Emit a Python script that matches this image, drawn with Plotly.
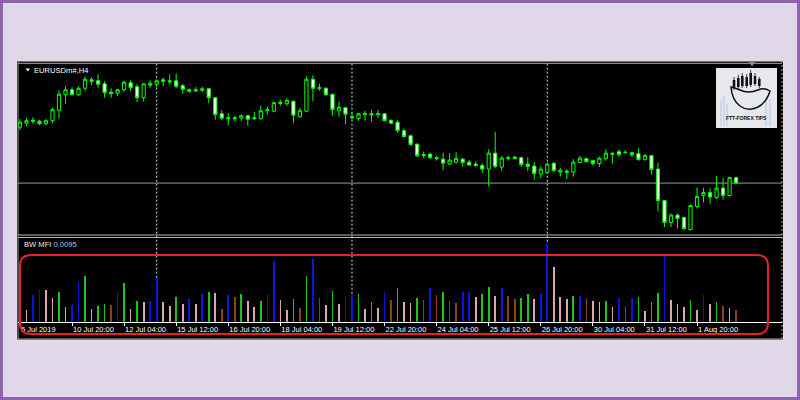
import plotly.graph_objects as go

W, H = 800, 400

# ---------------- data ----------------
symbol_label = "EURUSDm#,H4"
indicator_label = "BW MFI"

open_ = [1.1236, 1.1240, 1.1243, 1.1242, 1.12395, 1.12425, 1.1253, 1.12685, 1.12735, 1.12685,
         1.1275, 1.12835, 1.12825, 1.12795, 1.1271, 1.1270, 1.12735, 1.12805, 1.12765, 1.12655,
         1.1278, 1.1279, 1.12835, 1.12825, 1.12825, 1.12775, 1.12735, 1.12735, 1.1273, 1.12745,
         1.12655, 1.12495, 1.12455, 1.12455, 1.1245, 1.12475, 1.12455, 1.12445, 1.12525, 1.1252,
         1.1261, 1.12595, 1.1262, 1.12465, 1.1252, 1.1284, 1.12745, 1.1275, 1.1269, 1.12525,
         1.12555, 1.12465, 1.12445, 1.12485, 1.12495, 1.12485, 1.12495, 1.1243, 1.1241, 1.12325,
         1.12275, 1.1219, 1.12075, 1.1209, 1.12055, 1.1204, 1.1199, 1.1201, 1.1204, 1.1201,
         1.1199, 1.11975, 1.1194, 1.1210, 1.1196, 1.12045, 1.1206, 1.12055, 1.1199, 1.1197,
         1.1189, 1.11905, 1.1200, 1.1191, 1.1192, 1.1191, 1.12005, 1.12045, 1.12025, 1.11995,
         1.12045, 1.1210, 1.12115, 1.1211, 1.12105, 1.12095, 1.12035, 1.12075, 1.1194, 1.11625,
         1.11405, 1.1148, 1.11455, 1.11335, 1.11565, 1.11675, 1.11705, 1.11655, 1.1175, 1.11675,
         1.11855]
high_ = [1.1244, 1.12455, 1.1246, 1.12435, 1.1244, 1.12555, 1.1273, 1.1277, 1.1276, 1.1277,
         1.1287, 1.1286, 1.1289, 1.1282, 1.1275, 1.12745, 1.12825, 1.1283, 1.1279, 1.1280,
         1.1283, 1.1284, 1.12855, 1.1289, 1.12895, 1.12795, 1.1275, 1.1276, 1.12765, 1.1275,
         1.1266, 1.1253, 1.1250, 1.12475, 1.12485, 1.12485, 1.12515, 1.12575, 1.12565, 1.12615,
         1.12635, 1.1265, 1.12625, 1.12555, 1.1287, 1.1288, 1.12795, 1.1276, 1.12695, 1.12615,
         1.1256, 1.1251, 1.1250, 1.12525, 1.12535, 1.12535, 1.1250, 1.12435, 1.1243, 1.12345,
         1.12285, 1.12195, 1.12115, 1.12105, 1.12075, 1.12105, 1.1210, 1.1211, 1.1205, 1.1203,
         1.12015, 1.1200, 1.1214, 1.1231, 1.1207, 1.12075, 1.12075, 1.12065, 1.1206, 1.12015,
         1.11965, 1.12005, 1.12005, 1.1195, 1.1194, 1.1204, 1.12075, 1.12055, 1.12035, 1.12065,
         1.1214, 1.12105, 1.1214, 1.12125, 1.12115, 1.1215, 1.1209, 1.1208, 1.12005, 1.11625,
         1.11495, 1.11495, 1.11465, 1.11585, 1.11755, 1.1175, 1.1175, 1.1187, 1.1185, 1.11865,
         1.11865]
low_ = [1.1233, 1.1237, 1.1239, 1.1238, 1.1238, 1.1240, 1.12445, 1.12595, 1.1268, 1.12675,
        1.1272, 1.1278, 1.12755, 1.12655, 1.12655, 1.1267, 1.12715, 1.1272, 1.1261, 1.12615,
        1.12755, 1.1276, 1.12775, 1.1279, 1.1275, 1.12695, 1.12705, 1.12715, 1.1271, 1.1260,
        1.12435, 1.1243, 1.1238, 1.1242, 1.1242, 1.12375, 1.12435, 1.12435, 1.12485, 1.1251,
        1.12575, 1.12575, 1.1240, 1.12455, 1.1251, 1.1262, 1.12725, 1.12675, 1.12475, 1.12465,
        1.1239, 1.12435, 1.12425, 1.12425, 1.12415, 1.1245, 1.1242, 1.1239, 1.12305, 1.1226,
        1.12175, 1.1206, 1.1205, 1.1204, 1.12025, 1.1193, 1.1198, 1.11995, 1.11965, 1.11975,
        1.11965, 1.1190, 1.11765, 1.1195, 1.11925, 1.12025, 1.12035, 1.1196, 1.1192, 1.11835,
        1.1185, 1.1190, 1.11915, 1.11865, 1.1184, 1.11865, 1.1200, 1.12005, 1.11975, 1.1196,
        1.12025, 1.11995, 1.12065, 1.12095, 1.1206, 1.12025, 1.12025, 1.11885, 1.11515, 1.1136,
        1.1136, 1.11345, 1.11325, 1.11325, 1.11545, 1.11605, 1.1159, 1.1164, 1.11635, 1.11665,
        1.11795]
close_ = [1.1241, 1.12425, 1.1242, 1.12395, 1.12425, 1.12535, 1.1269, 1.12735, 1.12685, 1.1275,
          1.1284, 1.1282, 1.1279, 1.12705, 1.12695, 1.12735, 1.1281, 1.12755, 1.12655, 1.12795,
          1.1280, 1.12825, 1.1282, 1.12815, 1.1277, 1.1274, 1.1272, 1.12725, 1.12745, 1.12655,
          1.12485, 1.1245, 1.12445, 1.12445, 1.12475, 1.1244, 1.12445, 1.12525, 1.12535, 1.12605,
          1.1260, 1.1263, 1.1248, 1.12525, 1.1284, 1.1275, 1.12755, 1.12685, 1.12535, 1.1256,
          1.1249, 1.12455, 1.12495, 1.12495, 1.12485, 1.12495, 1.12425, 1.1240, 1.12325, 1.12265,
          1.12185, 1.12075, 1.12085, 1.12055, 1.12045, 1.1200, 1.1203, 1.12045, 1.12005, 1.1198,
          1.11975, 1.1194, 1.1210, 1.11965, 1.1205, 1.12055, 1.12045, 1.11985, 1.11965, 1.11895,
          1.1194, 1.1199, 1.11925, 1.1193, 1.1191, 1.1201, 1.1205, 1.12015, 1.11995, 1.1205,
          1.1210, 1.1209, 1.12085, 1.12105, 1.12085, 1.12035, 1.12075, 1.11935, 1.11625, 1.11405,
          1.1148, 1.11445, 1.11345, 1.11575, 1.11665, 1.11705, 1.1166, 1.1175, 1.11675, 1.11855,
          1.1180]
bid_price = 1.1180

mfi_value = [None, 0.0095, 0.0217, 0.0257, 0.0257, 0.0195, 0.0238, 0.0116, 0.0136, 0.0325, 0.0371,
             0.0103, 0.0127, 0.0144, 0.0136, 0.0244, 0.0317, 0.0103, 0.0171, 0.0157, 0.0171,
             0.0352, 0.0162, 0.0127, 0.0197, 0.0144, 0.0184, 0.0144, 0.0222, 0.0244, 0.0230,
             0.0103, 0.0217, 0.0203, 0.0222, 0.0171, 0.0116, 0.0171, 0.0225, 0.0493, 0.0176,
             0.0095, 0.0181, 0.0114, 0.0374, 0.0506, 0.0189, 0.0136, 0.0252, 0.0144, 0.0211,
             0.0217, 0.0225, 0.0103, 0.0157, 0.0108, 0.0230, 0.0176, 0.0276, 0.0157, 0.0154,
             0.0189, 0.0176, 0.0270, 0.0217, 0.0244, 0.0171, 0.0149, 0.0238, 0.0244, 0.0197,
             0.0225, 0.0284, 0.0211, 0.0276, 0.0209, 0.0181, 0.0189, 0.0225, 0.0184, 0.0235,
             0.0637, 0.0441, 0.0203, 0.0181, 0.0209, 0.0211, 0.0181, 0.0168, 0.0157, 0.0168,
             0.0122, 0.0195, 0.0127, 0.0189, 0.0203, 0.0087, 0.0157, 0.0235, 0.0533, 0.0176,
             0.0144, 0.0116, 0.0176, 0.0095, 0.0217, 0.0144, 0.0162, 0.0127, 0.0114, 0.0095]
# G = green (MFI up, volume up), F = fade (brown), B = fake (blue), P = squat (pink)
mfi_zone = ("-" + "PBBPPGPBBG" + "PGGFBGPGPB" + "BPPGPBPBGP" + "FBFGPPGBBP" + "PGFGBFPGPB"
            + "BGPGPBFGPP" + "GFBFGFFBBP" + "GGPBFFGGPB" + "BPPPGBFPPG" + "PBFBGPGGBP"
            + "PPGPBPGFPF")

week_start_bars = [21, 51, 81]
tick_bars = [0, 8, 16, 24, 32, 40, 48, 56, 64, 72, 80, 88, 96, 104]
tick_labels = ["5 Jul 2019", "10 Jul 20:00", "12 Jul 04:00", "15 Jul 12:00", "16 Jul 20:00",
               "18 Jul 04:00", "19 Jul 12:00", "22 Jul 20:00", "24 Jul 04:00", "25 Jul 12:00",
               "26 Jul 20:00", "30 Jul 04:00", "31 Jul 12:00", "1 Aug 20:00"]
logo_text = "FTT-FOREX TIPS"

bar_index = list(range(len(close_)))

# ---------------- styling helpers ----------------
def px(x):
    return x / W


def py(y):
    return 1 - y / H


def P(x, y):
    return f"{px(x):.5f},{py(y):.5f}"


FONT = "Liberation Sans"
CANDLE_GREEN = "#00ff00"
zone_colors = {"G": "#18c818", "F": "#8b4513", "B": "#1010e0", "P": "#d8a9ad", "-": "rgba(0,0,0,0)"}
bar_colors = [zone_colors[z] for z in mfi_zone]

X_RANGE = [-0.3, 117.05]

fig = go.Figure()
fig.add_trace(go.Candlestick(
    x=bar_index, open=open_, high=high_, low=low_, close=close_,
    increasing=dict(line=dict(color=CANDLE_GREEN, width=1), fillcolor="#000000"),
    decreasing=dict(line=dict(color=CANDLE_GREEN, width=1), fillcolor="#ffffff"),
    whiskerwidth=0, xaxis="x", yaxis="y", showlegend=False, hoverinfo="skip",
))
fig.add_trace(go.Bar(
    x=bar_index, y=mfi_value, width=0.26,
    marker=dict(color=bar_colors, line=dict(width=0)),
    xaxis="x2", yaxis="y2", showlegend=False, hoverinfo="skip",
))


def hline(y, x0=18, x1=782, color="#a0a0a0", width=1, dash="solid", layer="below"):
    return dict(type="line", xref="paper", yref="paper", x0=px(x0), x1=px(x1), y0=py(y), y1=py(y),
                line=dict(color=color, width=width, dash=dash), layer=layer)


def vline(x, y0, y1, color="#a0a0a0", width=1, dash="solid", layer="below"):
    return dict(type="line", xref="paper", yref="paper", x0=px(x), x1=px(x), y0=py(y0), y1=py(y1),
                line=dict(color=color, width=width, dash=dash), layer=layer)


shapes = []
# lavender card inside purple frame
shapes.append(dict(type="rect", xref="paper", yref="paper", x0=px(3), x1=px(797), y0=py(397), y1=py(3),
                   fillcolor="#e0d8e9", line=dict(width=0), layer="below"))
# black chart window
shapes.append(dict(type="rect", xref="paper", yref="paper", x0=px(17), x1=px(783), y0=py(339.5), y1=py(61),
                   fillcolor="#000000", line=dict(width=0), layer="below"))
shapes.append(hline(61.5, 17, 783, "#6e6e6e"))
shapes.append(hline(63.3, 18, 782, "#a8a8a8"))
shapes.append(vline(18, 62, 339, "#9a9a9a"))
shapes.append(vline(782, 61, 339, "#a0a0a0", dash="2px,2px"))
shapes.append(hline(339, 17, 783, "#9a9a9a"))
# main / indicator window separator
shapes.append(hline(235, 18, 782, "#b4b4b4"))
shapes.append(hline(237.5, 18, 782, "#b4b4b4"))
# bid line
shapes.append(dict(type="line", xref="paper", yref="y", x0=px(18), x1=px(782), y0=bid_price, y1=bid_price,
                   line=dict(color="#9a9a9a", width=1), layer="below"))
# weekly period separators
for b in week_start_bars:
    shapes.append(dict(type="line", xref="x", yref="paper", x0=b, x1=b, y0=py(321.7), y1=py(63.5),
                       line=dict(color="#d8d8d8", width=1, dash="2px,2px"), layer="below"))
# red rounded highlight rectangle
L, R, T, B, r = 20, 768, 255, 334, 11
red_path = (f"M {P(L + r, T)} L {P(R - r, T)} Q {P(R, T)} {P(R, T + r)} L {P(R, B - r)} "
            f"Q {P(R, B)} {P(R - r, B)} L {P(L + r, B)} Q {P(L, B)} {P(L, B - r)} "
            f"L {P(L, T + r)} Q {P(L, T)} {P(L + r, T)} Z")
shapes.append(dict(type="path", xref="paper", yref="paper", path=red_path,
                   line=dict(color="#e8202c", width=2), layer="above"))
# title triangle
shapes.append(dict(type="path", xref="paper", yref="paper",
                   path=f"M {P(25.5, 68.5)} L {P(30, 68.5)} L {P(27.75, 71.5)} Z",
                   fillcolor="#ffffff", line=dict(width=0), layer="above"))
# chart-shift marker
shapes.append(dict(type="path", xref="paper", yref="paper",
                   path=f"M {P(749, 62)} L {P(755, 62)} L {P(752, 66.5)} Z",
                   fillcolor="#8c8c8c", line=dict(width=0), layer="above"))
# logo box
shapes.append(dict(type="rect", xref="paper", yref="paper", x0=px(716), x1=px(777), y0=py(128), y1=py(68),
                   fillcolor="#e6e8ed", line=dict(width=0), layer="above"))
for (lx, ly0, ly1) in [(721, 100, 126), (724, 96, 126), (727, 104, 126), (766, 96, 126), (770, 100, 126)]:
    shapes.append(vline(lx, ly0, ly1, "#c6d2e2", 1.5, layer="above"))
for (cx, ct, cb, wt, wb) in [(734, 80, 88, 77, 90), (738.3, 78, 87, 75, 89), (742.3, 76, 86, 73, 88),
                             (746.7, 77, 86, 74, 88), (750.7, 73, 85, 70, 87), (755, 76, 84, 73, 86),
                             (759.3, 79, 86, 77, 88)]:
    shapes.append(vline(cx, wt, wb, "#111111", 0.8, layer="above"))
    shapes.append(dict(type="rect", xref="paper", yref="paper", x0=px(cx - 1.3), x1=px(cx + 1.3),
                       y0=py(cb), y1=py(ct), fillcolor="#111111", line=dict(width=0), layer="above"))
bull_path = (f"M {P(731, 87)} Q {P(732, 100)} {P(740, 106)} Q {P(748, 112)} {P(758, 107)} "
             f"Q {P(767, 102)} {P(770, 91)} Q {P(764, 87)} {P(758, 90)} Q {P(748, 94)} {P(740, 90)} "
             f"Q {P(735, 88)} {P(731, 87)} Z")
shapes.append(dict(type="path", xref="paper", yref="paper", path=bull_path,
                   line=dict(color="#111111", width=1.5), layer="above"))

annotations = [
    dict(text=symbol_label, xref="paper", yref="paper", x=px(31.5), y=py(70), xanchor="left", yanchor="middle",
         showarrow=False, font=dict(family=FONT, size=7.6, color="#ffffff")),
    dict(text=f"{indicator_label} <span style='color:#a9c8f5'>{mfi_value[-1]:.4f}</span>", xref="paper",
         yref="paper", x=px(21.5), y=py(244), xanchor="left", yanchor="middle", showarrow=False,
         font=dict(family=FONT, size=7.6, color="#e8e8e8")),
    dict(text=f"<b>{logo_text}</b>", xref="paper", yref="paper", x=px(746.5), y=py(118), xanchor="center",
         yanchor="middle", showarrow=False, font=dict(family=FONT, size=5, color="#111111")),
]

fig.update_layout(
    width=W, height=H, margin=dict(l=0, r=0, t=0, b=0),
    paper_bgcolor="#8c64b0", plot_bgcolor="rgba(0,0,0,0)",
    bargap=0, showlegend=False, hovermode=False,
    shapes=shapes, annotations=annotations,
    xaxis=dict(domain=[px(18), px(782)], range=X_RANGE, anchor="y", visible=False,
               rangeslider=dict(visible=False), showgrid=False, zeroline=False),
    yaxis=dict(domain=[py(235), py(63.3)], range=[1.1128, 1.1300], anchor="x", visible=False,
               showgrid=False, zeroline=False),
    xaxis2=dict(domain=[px(18), px(782)], range=X_RANGE, matches="x", anchor="y2",
                showline=True, linecolor="#ffffff", linewidth=1, mirror=False,
                ticks="outside", ticklen=3, tickwidth=1, tickcolor="#ffffff",
                tickmode="array", tickvals=tick_bars, ticktext=tick_labels,
                ticklabelposition="outside right",
                tickfont=dict(family=FONT, size=7.5, color="#ffffff"),
                showgrid=False, zeroline=False),
    yaxis2=dict(domain=[py(321.7), py(238)], range=[0, 0.068], anchor="x2", visible=False,
                showgrid=False, zeroline=False),
)

# the page body gets no margin so the 800x400 figure fills the window exactly
fig.write_html("out.html", config={"displayModeBar": False, "staticPlot": True},
               post_script="document.body.style.margin='0';document.body.style.overflow='hidden';")
